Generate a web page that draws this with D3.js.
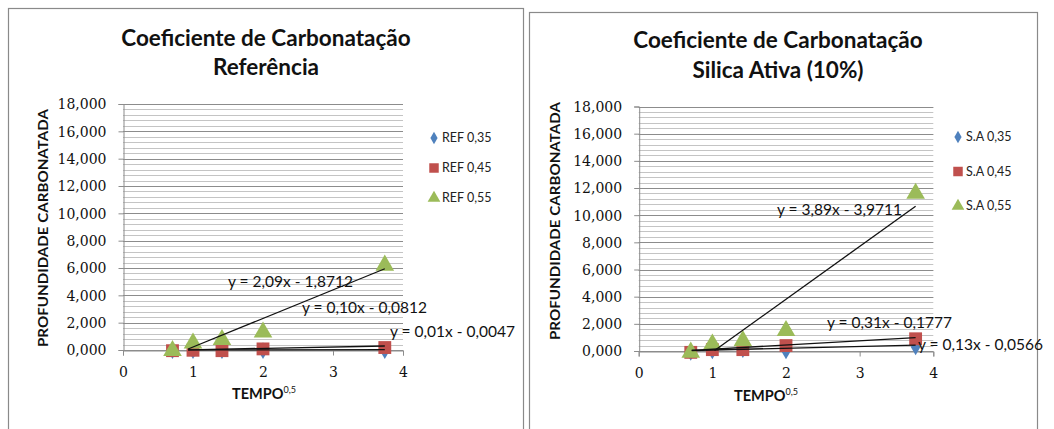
<!DOCTYPE html>
<html><head><meta charset="utf-8">
<script src="https://cdn.jsdelivr.net/npm/d3@7"></script>
<style>body{margin:0;background:#fff}svg{display:block}
.tk text{font-family:"DejaVu Serif","Liberation Serif",serif !important;}
</style>
</head><body>
<svg id="c" width="1054" height="429"></svg>
<script>
// ---- data ----
const xValsRef = [0.707, 1, 1.414, 2, 3.74];
const ref035 = [-0.05, -0.05, -0.05, -0.05, -0.05];
const ref045 = [-0.05, -0.02, -0.05, 0.08, 0.18];
const ref055 = [-0.05, 0.5, 0.75, 1.3, 6.2];
const xValsSA = [0.707, 1, 1.414, 2, 3.76];
const sa035 = [-0.1, 0.0, 0.1, 0.0, 0.3];
const sa045 = [-0.1, 0.1, 0.1, 0.4, 0.9];
const sa055 = [-0.1, 0.5, 0.75, 1.5, 11.6];
const refNames = ["REF 0,35", "REF 0,45", "REF 0,55"];
const saNames = ["S.A 0,35", "S.A 0,45", "S.A 0,55"];
// trendlines: [slope, intercept, xStart, xEnd]
const refTrends = [[0.01, -0.0047, 0.93, 3.74], [0.10, -0.0812, 0.93, 3.74], [2.09, -1.8712, 0.93, 3.74]];
const saTrends = [[0.13, -0.0566, 0.72, 3.76], [0.31, -0.1777, 0.72, 3.76], [3.89, -3.9711, 1.03, 3.76]];
const refEq = ["y = 0,01x - 0,0047", "y = 0,10x - 0,0812", "y = 2,09x - 1,8712"];
const saEq = ["y = 0,13x - 0,0566", "y = 0,31x - 0,1777", "y = 3,89x - 3,9711"];
const xTicks = [0, 1, 2, 3, 4];
const yTicks = [0, 2, 4, 6, 8, 10, 12, 14, 16, 18];
const yMinor = d3.range(0, 18.01, 0.4);

const colors = ["#4F81BD", "#C0504D", "#9BBB59"];
const shapes = [d3.symbolDiamond, d3.symbolSquare, d3.symbolTriangle];
const loc = d3.formatLocale({decimal: ",", thousands: ".", grouping: [3], currency: ["", ""]});
const fmt = loc.format(".3f");

const svg = d3.select("#c");
const SERIF = '"DejaVu Serif","Liberation Serif",serif';

function chart(cfg) {
  const g = svg.append("g");
  g.append("rect").attr("x", cfg.frame[0]).attr("y", cfg.frame[1])
    .attr("width", cfg.frame[2]).attr("height", 500)
    .attr("fill", "#fff").attr("stroke", "#8a8a8a").attr("stroke-width", 1.2);
  const x = d3.scaleLinear().domain([0, 4]).range(cfg.xr);
  const y = d3.scaleLinear().domain([0, 18]).range(cfg.yr);
  g.append("g").selectAll("line").data(yMinor).join("line")
    .attr("x1", x(0)).attr("x2", x(4)).attr("y1", d => Math.round(y(d)) + 0.5).attr("y2", d => Math.round(y(d)) + 0.5)
    .attr("stroke", "#c4c4c4").attr("stroke-width", 1);
  g.append("g").selectAll("line").data(yTicks).join("line")
    .attr("x1", x(0)).attr("x2", x(4)).attr("y1", d => Math.round(y(d)) + 0.5).attr("y2", d => Math.round(y(d)) + 0.5)
    .attr("stroke", "#8c8c8c").attr("stroke-width", 1);
  const ya = g.append("g").attr("class", "tk").attr("transform", `translate(${x(0) + 0.5},0)`)
    .call(d3.axisLeft(y).tickValues(yTicks).tickFormat(fmt).tickSize(5).tickPadding(12));
  ya.attr("font-family", null).attr("font-size", null);
  ya.select(".domain").attr("stroke", "#8c8c8c");
  ya.selectAll(".tick line").attr("stroke", "#8c8c8c");
  ya.selectAll("text").style("font-family", SERIF).style("font-size", "14px").attr("fill", "#111").attr("dy", "0.35em");
  const xa = g.append("g").attr("class", "tk").attr("transform", `translate(0,${Math.round(y(0)) + 0.5})`)
    .call(d3.axisBottom(x).tickValues(xTicks).tickFormat(d3.format("d")).tickSize(5).tickPadding(12));
  xa.attr("font-family", null).attr("font-size", null);
  xa.select(".domain").attr("stroke", "#8c8c8c");
  xa.selectAll(".tick line").attr("stroke", "#8c8c8c");
  xa.selectAll("text").style("font-family", SERIF).style("font-size", "14px").attr("fill", "#111");
  cfg.series.forEach((s, i) => {
    g.append("g").selectAll("path").data(s).join("path")
      .attr("transform", (d, j) => `translate(${x(cfg.xs[j])},${y(d)})`)
      .attr("d", d3.symbol().type(shapes[i]).size(i === 0 ? 80 : i === 1 ? 165 : 150))
      .attr("fill", colors[i]);
  });
  cfg.trends.forEach(t => {
    g.append("line")
      .attr("x1", x(t[2])).attr("y1", y(t[0] * t[2] + t[1]))
      .attr("x2", x(t[3])).attr("y2", y(t[0] * t[3] + t[1]))
      .attr("stroke", "#111").attr("stroke-width", 1.3);
  });
  cfg.eq.forEach((e, i) => {
    g.append("text").attr("x", cfg.eqPos[i][0]).attr("y", cfg.eqPos[i][1])
      .attr("font-family", "Lato, sans-serif").attr("font-size", 14.5).attr("fill", "#111")
      .attr("textLength", 125).attr("lengthAdjust", "spacingAndGlyphs").text(e);
  });
  cfg.title.forEach((t, i) => {
    g.append("text").attr("x", cfg.titleX).attr("y", cfg.titleY[i]).attr("text-anchor", "middle")
      .attr("font-family", "Lato, sans-serif").attr("font-weight", "bold").attr("font-size", 22.5).attr("fill", "#111")
      .text(t);
  });
  g.append("text").attr("transform", `translate(${cfg.yTitle[0]},${cfg.yTitle[1]}) rotate(-90)`)
    .attr("text-anchor", "middle").attr("font-family", "Lato, sans-serif").attr("font-weight", "bold")
    .attr("font-size", 14).attr("fill", "#111").attr("textLength", 238).attr("lengthAdjust", "spacingAndGlyphs")
    .text("PROFUNDIDADE CARBONATADA");
  const xt = g.append("text").attr("x", cfg.xTitle[0]).attr("y", cfg.xTitle[1]).attr("text-anchor", "middle")
    .attr("font-family", "Lato, sans-serif").attr("font-weight", "bold").attr("font-size", 14.5).attr("fill", "#111");
  xt.append("tspan").text("TEMPO");
  xt.append("tspan").attr("font-size", 9).attr("dy", -6).attr("font-weight", "normal").text("0,5");
  cfg.names.forEach((n, i) => {
    const ly = cfg.leg[1] + i * cfg.leg[2];
    g.append("path").attr("transform", `translate(${cfg.leg[0]},${ly})`)
      .attr("d", d3.symbol().type(shapes[i]).size(i === 0 ? 45 : i === 1 ? 90 : 70)).attr("fill", colors[i]);
    g.append("text").attr("x", cfg.leg[0] + 8).attr("y", ly).attr("dy", "0.35em")
      .attr("font-family", "Lato, sans-serif").attr("font-size", 12.5).attr("fill", "#222").text(n);
  });
}

chart({
  frame: [8.5, 8.5, 515],
  xr: [123, 403], yr: [350, 104],
  xs: xValsRef, series: [ref035, ref045, ref055], trends: refTrends,
  eq: refEq, eqPos: [[390, 337], [302, 313], [228, 287]],
  title: ["Coeficiente de Carbonatação", "Referência"], titleX: 266, titleY: [46, 75],
  yTitle: [48, 228], xTitle: [264, 399],
  names: refNames, leg: [434, 138, 30]
});
chart({
  frame: [529.5, 12.5, 508],
  xr: [638.7, 933.3], yr: [351, 106.5],
  xs: xValsSA, series: [sa035, sa045, sa055], trends: saTrends,
  eq: saEq, eqPos: [[918, 350], [827, 328], [777, 215]],
  title: ["Coeficiente de Carbonatação", "Silica Ativa (10%)"], titleX: 778, titleY: [48, 78],
  yTitle: [560, 221], xTitle: [766, 401],
  names: saNames, leg: [958, 137, 34.5]
});
</script>
</body></html>
